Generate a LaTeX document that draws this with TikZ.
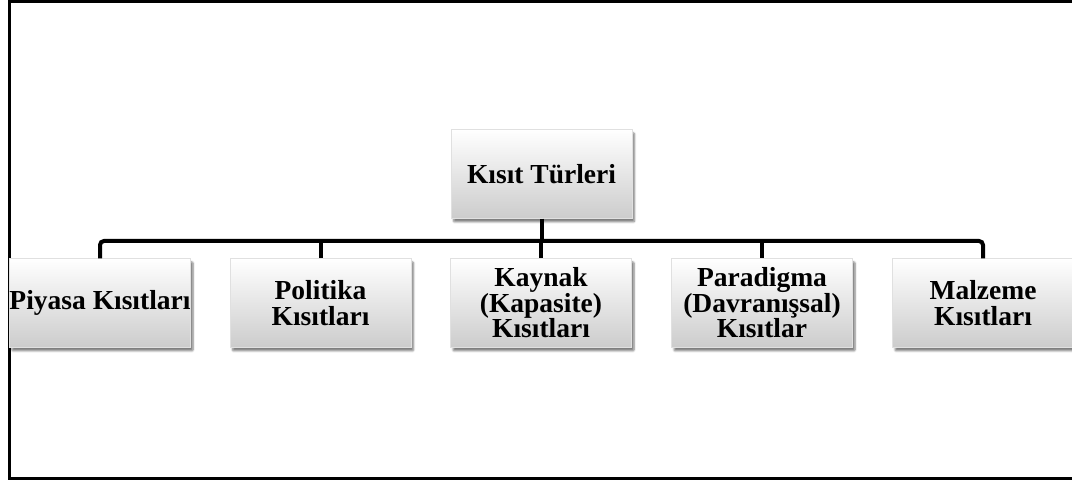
\documentclass[tikz,border=0pt]{standalone}
\usepackage{fontspec}
\setmainfont{Liberation Serif}
\usetikzlibrary{shadows.blur}
\begin{document}
\begin{tikzpicture}[x=1pt,y=1pt,
  box/.style={inner sep=0pt, align=center,
    minimum width=181pt, minimum height=89pt,
    font=\fontsize{27.5}{25.5}\selectfont\bfseries,
    shading=axis, top color=white, bottom color=black!20,
    draw=black!12, line width=0.4pt,
    blur shadow={shadow xshift=2.5pt, shadow yshift=-3.5pt,
      shadow blur steps=6, shadow blur extra rounding=1pt, shadow opacity=50}},
  bus/.style={line width=4pt, rounded corners=4pt},
  frame/.style={line width=3pt}]
\useasboundingbox (0,0) rectangle (1072,481);
% outer frame (its right side lies beyond the page)
\draw[frame] (1075,479.5) -- (9.5,479.5) -- (9.5,2.5) -- (1075,2.5);

% bus level
\coordinate (busy) at (541,240);

% root and children
\node[box] (root) at (541.5,307) {Kısıt Türleri};
\node[box] (c1) at (100,178) {Piyasa Kısıtları};
\node[box] (c2) at (320.5,178) {Politika\\Kısıtları};
\node[box] (c3) at (541,178) {Kaynak\\(Kapasite)\\Kısıtları};
\node[box] (c4) at (762,178) {Paradigma\\(Davranışsal)\\Kısıtlar};
\node[box] (c5) at (983,178) {Malzeme\\Kısıtları};

% connectors
\draw[bus] (c1.north) -- (c1.north |- busy) -- (c5.north |- busy) -- (c5.north);
\draw[bus] (root.south) -- (root.south |- busy);
\draw[bus] (c2.north |- busy) -- (c2.north);
\draw[bus] (c3.north |- busy) -- (c3.north);
\draw[bus] (c4.north |- busy) -- (c4.north);
\end{tikzpicture}
\end{document}
